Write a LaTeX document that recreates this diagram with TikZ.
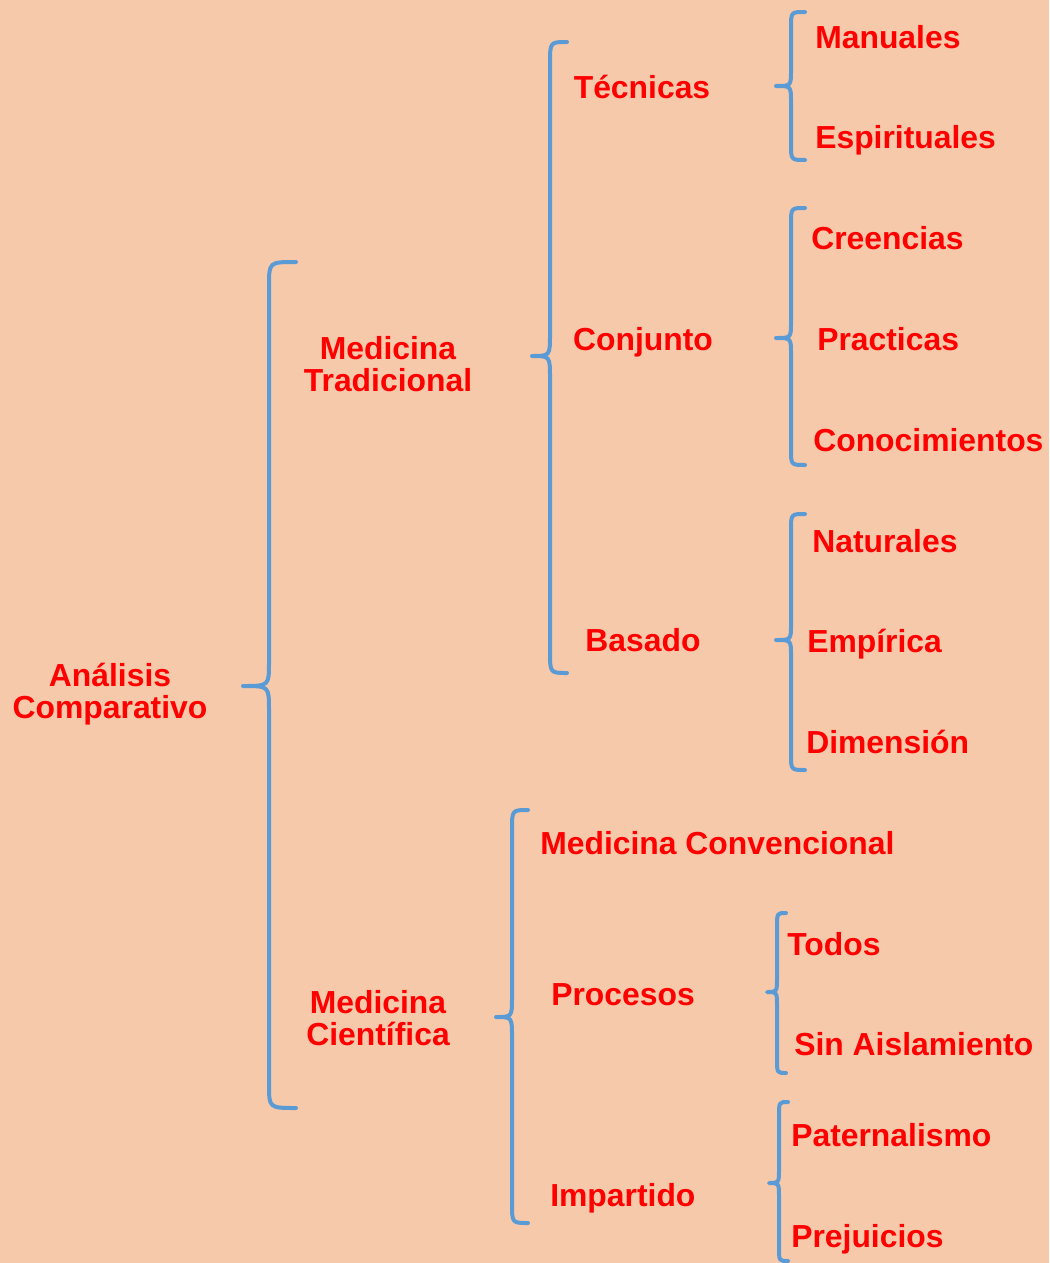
\documentclass[tikz,border=0pt]{standalone}
\usepackage{fontspec}
\setmainfont{Liberation Sans}
\definecolor{bgc}{HTML}{F7C9AB}
\definecolor{bluec}{HTML}{5B9BD5}
\definecolor{redc}{HTML}{FF0000}
\newcommand\cbrace[7]{%
  \draw[brc] (#6,#2) .. controls (#1,#2) .. (#1,{#2+#7}) -- (#1,{#3-#7})
    .. controls (#1,#3) .. (#5,#3) .. controls (#1,#3) .. (#1,{#3+#7})
    -- (#1,{#4-#7}) .. controls (#1,#4) .. (#6,#4);}
\begin{document}
\begin{tikzpicture}[x=0.75pt,y=-0.75pt,
  brc/.style={draw=bluec,line width=3pt,line cap=round,line join=round},
  lbl/.style={text=redc,font=\bfseries\fontsize{23.9}{24}\selectfont,inner sep=0pt,text height=17.1pt,text depth=0pt},
  lblw/.style={lbl,anchor=west},
  lblc/.style={lbl,anchor=center},
  two/.style={text=redc,font=\bfseries\fontsize{23.9}{24}\selectfont,inner sep=0pt,align=center,anchor=base}]
\fill[bgc] (0,0) rectangle (1049,1263);
\useasboundingbox (0,0) rectangle (1049,1263);
% braces
\cbrace{269}{262}{686}{1108}{243}{296}{24}
\cbrace{550}{42}{356}{673}{532}{567}{22}
\cbrace{791}{12}{86}{160}{776}{805}{16}
\cbrace{791}{208}{338}{465}{776}{805}{16}
\cbrace{791}{514}{640}{770}{776}{805}{16}
\cbrace{512}{810}{1017}{1223}{496}{528}{20}
\cbrace{777}{913}{992}{1073}{767}{786}{14}
\cbrace{779}{1102}{1183}{1261}{769}{788}{14}
% labels
\node[two] (ac) at (110,718) {Análisis\\Comparativo};
\node[two] (mt) at (388,391) {Medicina\\Tradicional};
\node[two] (mc) at (378,1045) {Medicina\\Científica};
\node[lblc] (tec) at (642,87) {Técnicas};
\node[lblc] (con) at (643,339) {Conjunto};
\node[lblc] (bas) at (643,640) {Basado};
\node[lblw] (man) at (815,37) {Manuales};
\node[lblw] (esp) at (815,137) {Espirituales};
\node[lblw] (cre) at (811,238) {Creencias};
\node[lblw] (pra) at (817,339) {Practicas};
\node[lblw] (cno) at (813,440) {Conocimientos};
\node[lblw] (nat) at (812,541) {Naturales};
\node[lblw] (emp) at (807,641) {Empírica};
\node[lblw] (dim) at (806,742) {Dimensión};
\node[lblw] (mcv) at (540,843) {Medicina Convencional};
\node[lblw] (pro) at (551,994) {Procesos};
\node[lblw] (tod) at (787,944) {Todos};
\node[lblw] (sin) at (794,1044) {Sin Aislamiento};
\node[lblw] (pat) at (791,1135) {Paternalismo};
\node[lblw] (imp) at (550,1195) {Impartido};
\node[lblw] (pre) at (791,1236) {Prejuicios};
\end{tikzpicture}
\end{document}
